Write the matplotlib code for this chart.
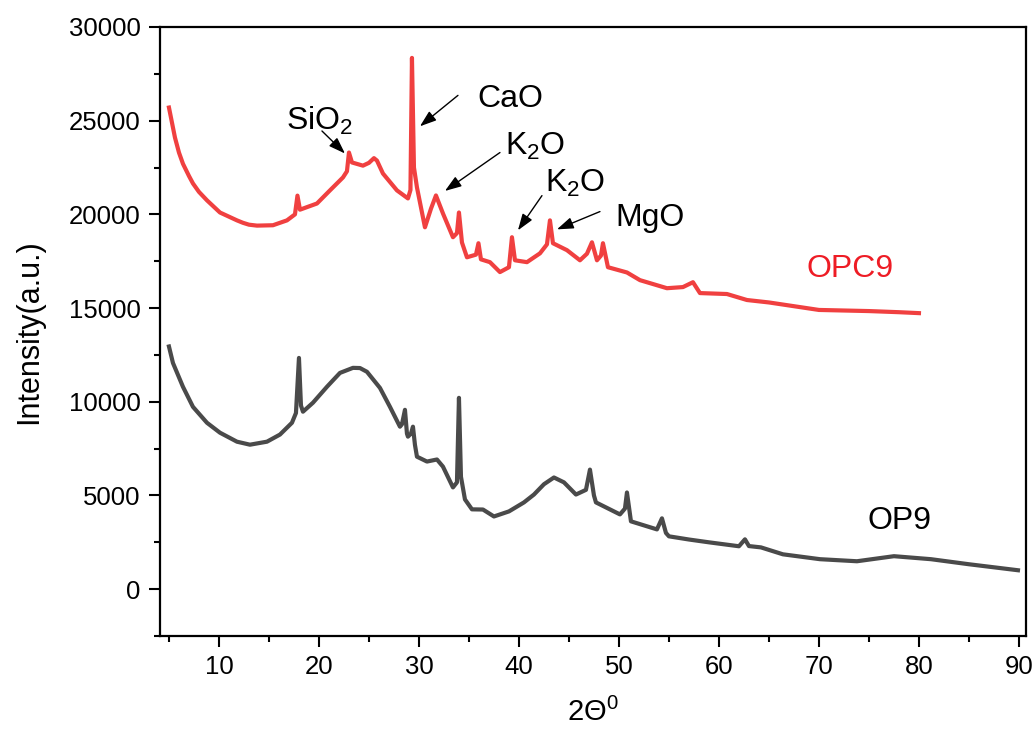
"""XRD patterns of OP9 and OPC9."""

import matplotlib
matplotlib.use('Agg')
import matplotlib.pyplot as plt

plt.rcParams['font.family'] = ['Liberation Sans', 'DejaVu Sans']
plt.rcParams['mathtext.fontset'] = 'custom'
plt.rcParams['mathtext.rm'] = 'Liberation Sans'
plt.rcParams['mathtext.it'] = 'Liberation Sans'

# OPC9 pattern (2theta, intensity)
opc9_x = [5.0, 5.3, 5.6, 6.0, 6.4, 7.0, 7.4, 8.0, 8.8, 9.4, 10.1, 11.8, 12.4,
          13.0, 13.8, 15.4, 16.8, 17.6, 17.85, 18.1, 19.8, 21.1, 22.4, 22.8,
          23.0, 23.3, 24.4, 25.0, 25.5, 25.8, 26.4, 27.8, 28.9, 29.15, 29.3,
          29.5, 29.8, 30.6, 31.2, 31.7, 32.4, 33.4, 33.8, 34.0, 34.3, 34.8,
          35.7, 35.95, 36.2, 37.1, 38.1, 39.0, 39.3, 39.6, 40.8, 42.1, 42.8,
          43.1, 43.4, 44.8, 46.1, 46.8, 47.3, 47.8, 48.2, 48.4, 48.9, 50.8,
          52.1, 54.8, 56.4, 57.4, 58.1, 60.8, 62.8, 65.0, 70.0, 75.0, 78.0,
          80.0]
opc9_y = [25700, 24900, 24100, 23300, 22700, 22050, 21650, 21200, 20750,
          20450, 20100, 19680, 19550, 19450, 19400, 19420, 19680, 20000,
          21000, 20250, 20580, 21280, 21970, 22300, 23300, 22770, 22600,
          22750, 23000, 22870, 22180, 21280, 20850, 21300, 28350, 22500,
          21440, 19310, 20300, 21010, 20050, 18780, 19000, 20100, 18500,
          17710, 17850, 18460, 17600, 17450, 16920, 17180, 18780, 17550,
          17450, 17920, 18400, 19680, 18460, 18090, 17550, 17900, 18510,
          17550, 17800, 18460, 17180, 16900, 16490, 16060, 16120, 16380,
          15800, 15750, 15430, 15300, 14900, 14840, 14780, 14730]

# OP9 pattern
op9_x = [5.0, 5.4, 6.4, 7.4, 8.8, 10.1, 11.8, 13.1, 14.8, 16.1, 17.3, 17.7,
         18.0, 18.2, 18.4, 19.4, 20.8, 21.5, 22.1, 23.4, 24.1, 24.8, 26.1,
         27.1, 28.1, 28.3, 28.6, 28.8, 28.9, 29.2, 29.4, 29.6, 29.8, 30.8,
         31.8, 32.4, 33.4, 33.8, 34.0, 34.2, 34.6, 35.3, 36.4, 37.5, 39.0,
         40.5, 41.5, 42.5, 43.5, 44.5, 45.7, 46.7, 47.1, 47.5, 47.7, 50.1,
         50.6, 50.8, 51.2, 53.8, 54.3, 54.7, 55.0, 57.0, 59.0, 62.0, 62.6,
         63.0, 64.2, 66.4, 70.1, 73.8, 77.5, 81.2, 85.0, 89.9]
op9_y = [12950, 12070, 10800, 9730, 8880, 8350, 7870, 7710, 7870, 8250, 8880,
         9400, 12340, 9800, 9470, 9950, 10800, 11200, 11540, 11810, 11800,
         11600, 10740, 9730, 8670, 8800, 9570, 8300, 8140, 8300, 8670, 7700,
         7070, 6810, 6920, 6540, 5430, 5700, 10210, 6000, 4790, 4260, 4250,
         3880, 4150, 4630, 5050, 5600, 5960, 5700, 5050, 5300, 6380, 5000,
         4630, 3990, 4300, 5160, 3620, 3190, 3780, 3000, 2820, 2650, 2500,
         2290, 2660, 2300, 2230, 1860, 1600, 1490, 1760, 1600, 1330, 1010]

# phase labels: text, text position, arrow tail, arrow head
phase_labels = ['SiO$_2$', 'CaO', 'K$_2$O', 'K$_2$O', 'MgO']
label_pos = [(20.1, 25000), (39.1, 26150), (41.6, 23650), (45.6, 21650),
             (53.1, 19800)]
arrow_tail = [(20.3, 24450), (33.9, 26350), (38.1, 23300), (42.3, 21000),
              (48.1, 20150)]
arrow_head = [(22.6, 23250), (30.1, 24700), (32.6, 21250), (39.9, 19150),
              (43.8, 19200)]


def main():
    fig = plt.figure(figsize=(10.36, 7.33), dpi=100)
    ax = fig.add_axes([0.1544, 0.1323, 0.8359, 0.8309])

    ax.plot(op9_x, op9_y, color='#4a4a4a', linewidth=3.0, solid_joinstyle='round')
    ax.plot(opc9_x, opc9_y, color='#f04040', linewidth=3.0, solid_joinstyle='round')

    for txt, pos, tail, head in zip(phase_labels, label_pos, arrow_tail, arrow_head):
        ax.text(pos[0], pos[1], txt, fontsize=23, ha='center', va='center')
        ax.annotate('', xy=head, xytext=tail,
                    arrowprops=dict(arrowstyle='-|>,head_length=1.0,head_width=0.35',
                                    color='black', lw=1.0, mutation_scale=10,
                                    shrinkA=0, shrinkB=0))

    ax.text(73.1, 17100, 'OPC9', color='#ee1c25', fontsize=23, ha='center', va='center')
    ax.text(78.1, 3650, 'OP9', color='black', fontsize=23, ha='center', va='center')

    ax.set_xlim(4.1, 90.7)
    ax.set_ylim(-2500, 30000)
    ax.set_xticks(range(10, 91, 10))
    ax.set_xticks(range(5, 91, 5), minor=True)
    ax.set_yticks(range(0, 30001, 5000))
    ax.set_yticks(range(-2500, 30001, 2500), minor=True)

    ax.tick_params(which='major', direction='out', length=8, width=1.5,
                   labelsize=18.5, pad=6)
    ax.tick_params(which='minor', direction='out', length=4.5, width=1.5)
    for sp in ax.spines.values():
        sp.set_linewidth(1.6)

    ax.set_xlabel(r'2$\Theta^{0}$', fontsize=21, labelpad=13)
    ax.set_ylabel('Intensity(a.u.)', fontsize=22, labelpad=18)

    fig.savefig('out.png', dpi=100)


if __name__ == '__main__':
    main()
